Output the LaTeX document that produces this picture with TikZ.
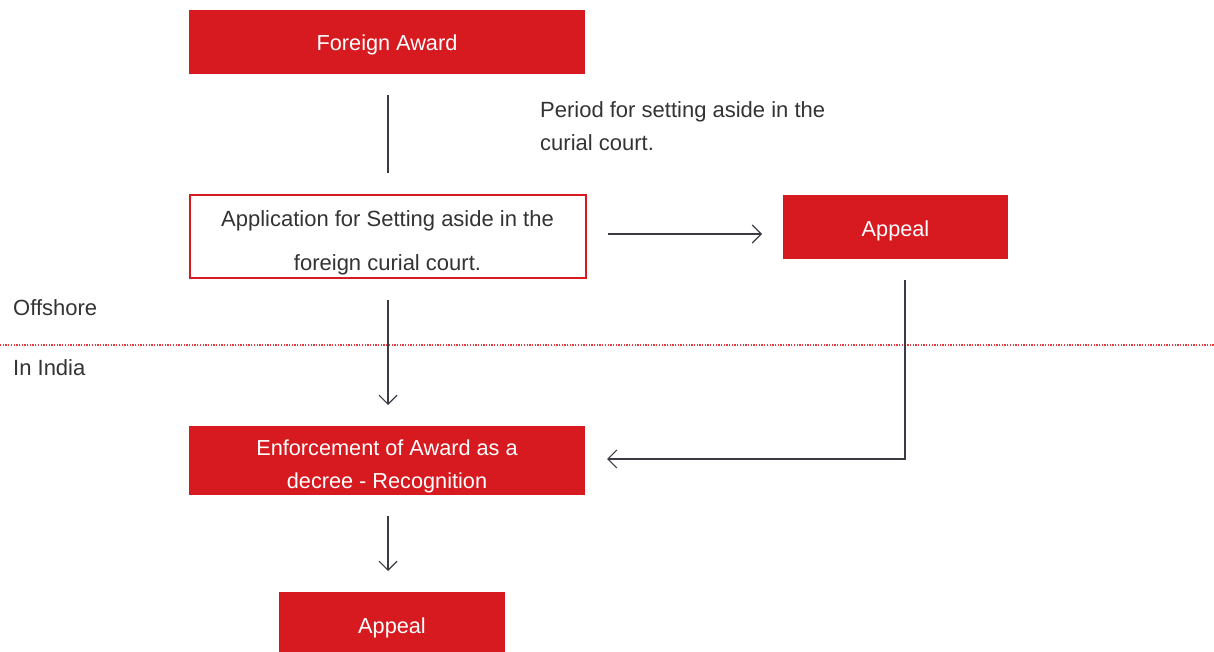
\documentclass[tikz,border=0pt]{standalone}
\usepackage{fontspec}
\setmainfont{Liberation Sans}
\usetikzlibrary{arrows.meta}
\definecolor{brandred}{HTML}{D71920}
\definecolor{txtgray}{HTML}{333333}
\definecolor{arrowgray}{HTML}{3A3B45}
\begin{document}
\begin{tikzpicture}[x=1pt,y=-1pt,
  redbox/.style={fill=brandred,draw=none,inner sep=0pt},
  outbox/.style={fill=white,draw=brandred,line width=2pt,inner sep=0pt},
  wtext/.style={text=white,align=center,inner sep=0pt,font=\fontsize{21.7}{33}\selectfont},
  gtext/.style={text=txtgray,align=center,inner sep=0pt,font=\fontsize{22}{44}\selectfont},
  plain/.style={text=txtgray,align=left,inner sep=0pt,font=\fontsize{22}{33}\selectfont},
  conn/.style={draw=arrowgray,line width=1.1pt},
  arr/.style={conn,-{Straight Barb[length=9pt,width=18pt,line width=1.1pt]}}]
\useasboundingbox (0,0) rectangle (1214,652);
% dotted border line
\draw[brandred!85,line width=1.3pt,dash pattern=on 1.3pt off 1.4pt] (0,345) -- (1214,345);
% boxes
\node[redbox,minimum width=396pt,minimum height=64pt] (fa) at (387,42) {};
\node[outbox,minimum width=396pt,minimum height=83pt] (app) at (387.5,236.5) {};
\node[redbox,minimum width=225pt,minimum height=64pt] (ap1) at (895.5,227) {};
\node[redbox,minimum width=396pt,minimum height=69pt] (enf) at (387,460.5) {};
\node[redbox,minimum width=226pt,minimum height=60pt] (ap2) at (392,622) {};
% box texts
\node[wtext] (faT) at ([yshift=-3pt]fa.center) {Foreign Award};
\node[gtext] (appT) at ([yshift=-6pt]app.center) {Application for Setting aside in the\\foreign curial court.};
\node[wtext] (ap1T) at ([yshift=-4pt]ap1.center) {Appeal};
\node[wtext] (enfT) at ([yshift=-6pt]enf.center) {Enforcement of Award as a\\decree - Recognition};
\node[wtext] (ap2T) at ([yshift=-6pt]ap2.center) {Appeal};
% text labels
\node[plain,anchor=west] (period) at (540,126) {Period for setting aside in the\\curial court.};
\node[plain,anchor=west] (off) at (13,308) {Offshore};
\node[plain,anchor=west] (ind) at (13,368) {In India};
% connector coordinates
\coordinate (c1a) at (388,95);
\coordinate (c1b) at (388,173);
\coordinate (c2a) at (608,234);
\coordinate (c2b) at (762,234);
\coordinate (c3a) at (905,280);
\coordinate (c3m) at (905,459);
\coordinate (c3b) at (607,459);
\coordinate (c4a) at (388,300);
\coordinate (c4b) at (388,405);
\coordinate (c5a) at (388,516);
\coordinate (c5b) at (388,571);
% connectors
\draw[conn] (c1a) -- (c1b);
\draw[arr] (c2a) -- (c2b);
\draw[arr] (c3a) -- (c3m) -- (c3b);
\draw[arr] (c4a) -- (c4b);
\draw[arr] (c5a) -- (c5b);
\end{tikzpicture}
\end{document}
